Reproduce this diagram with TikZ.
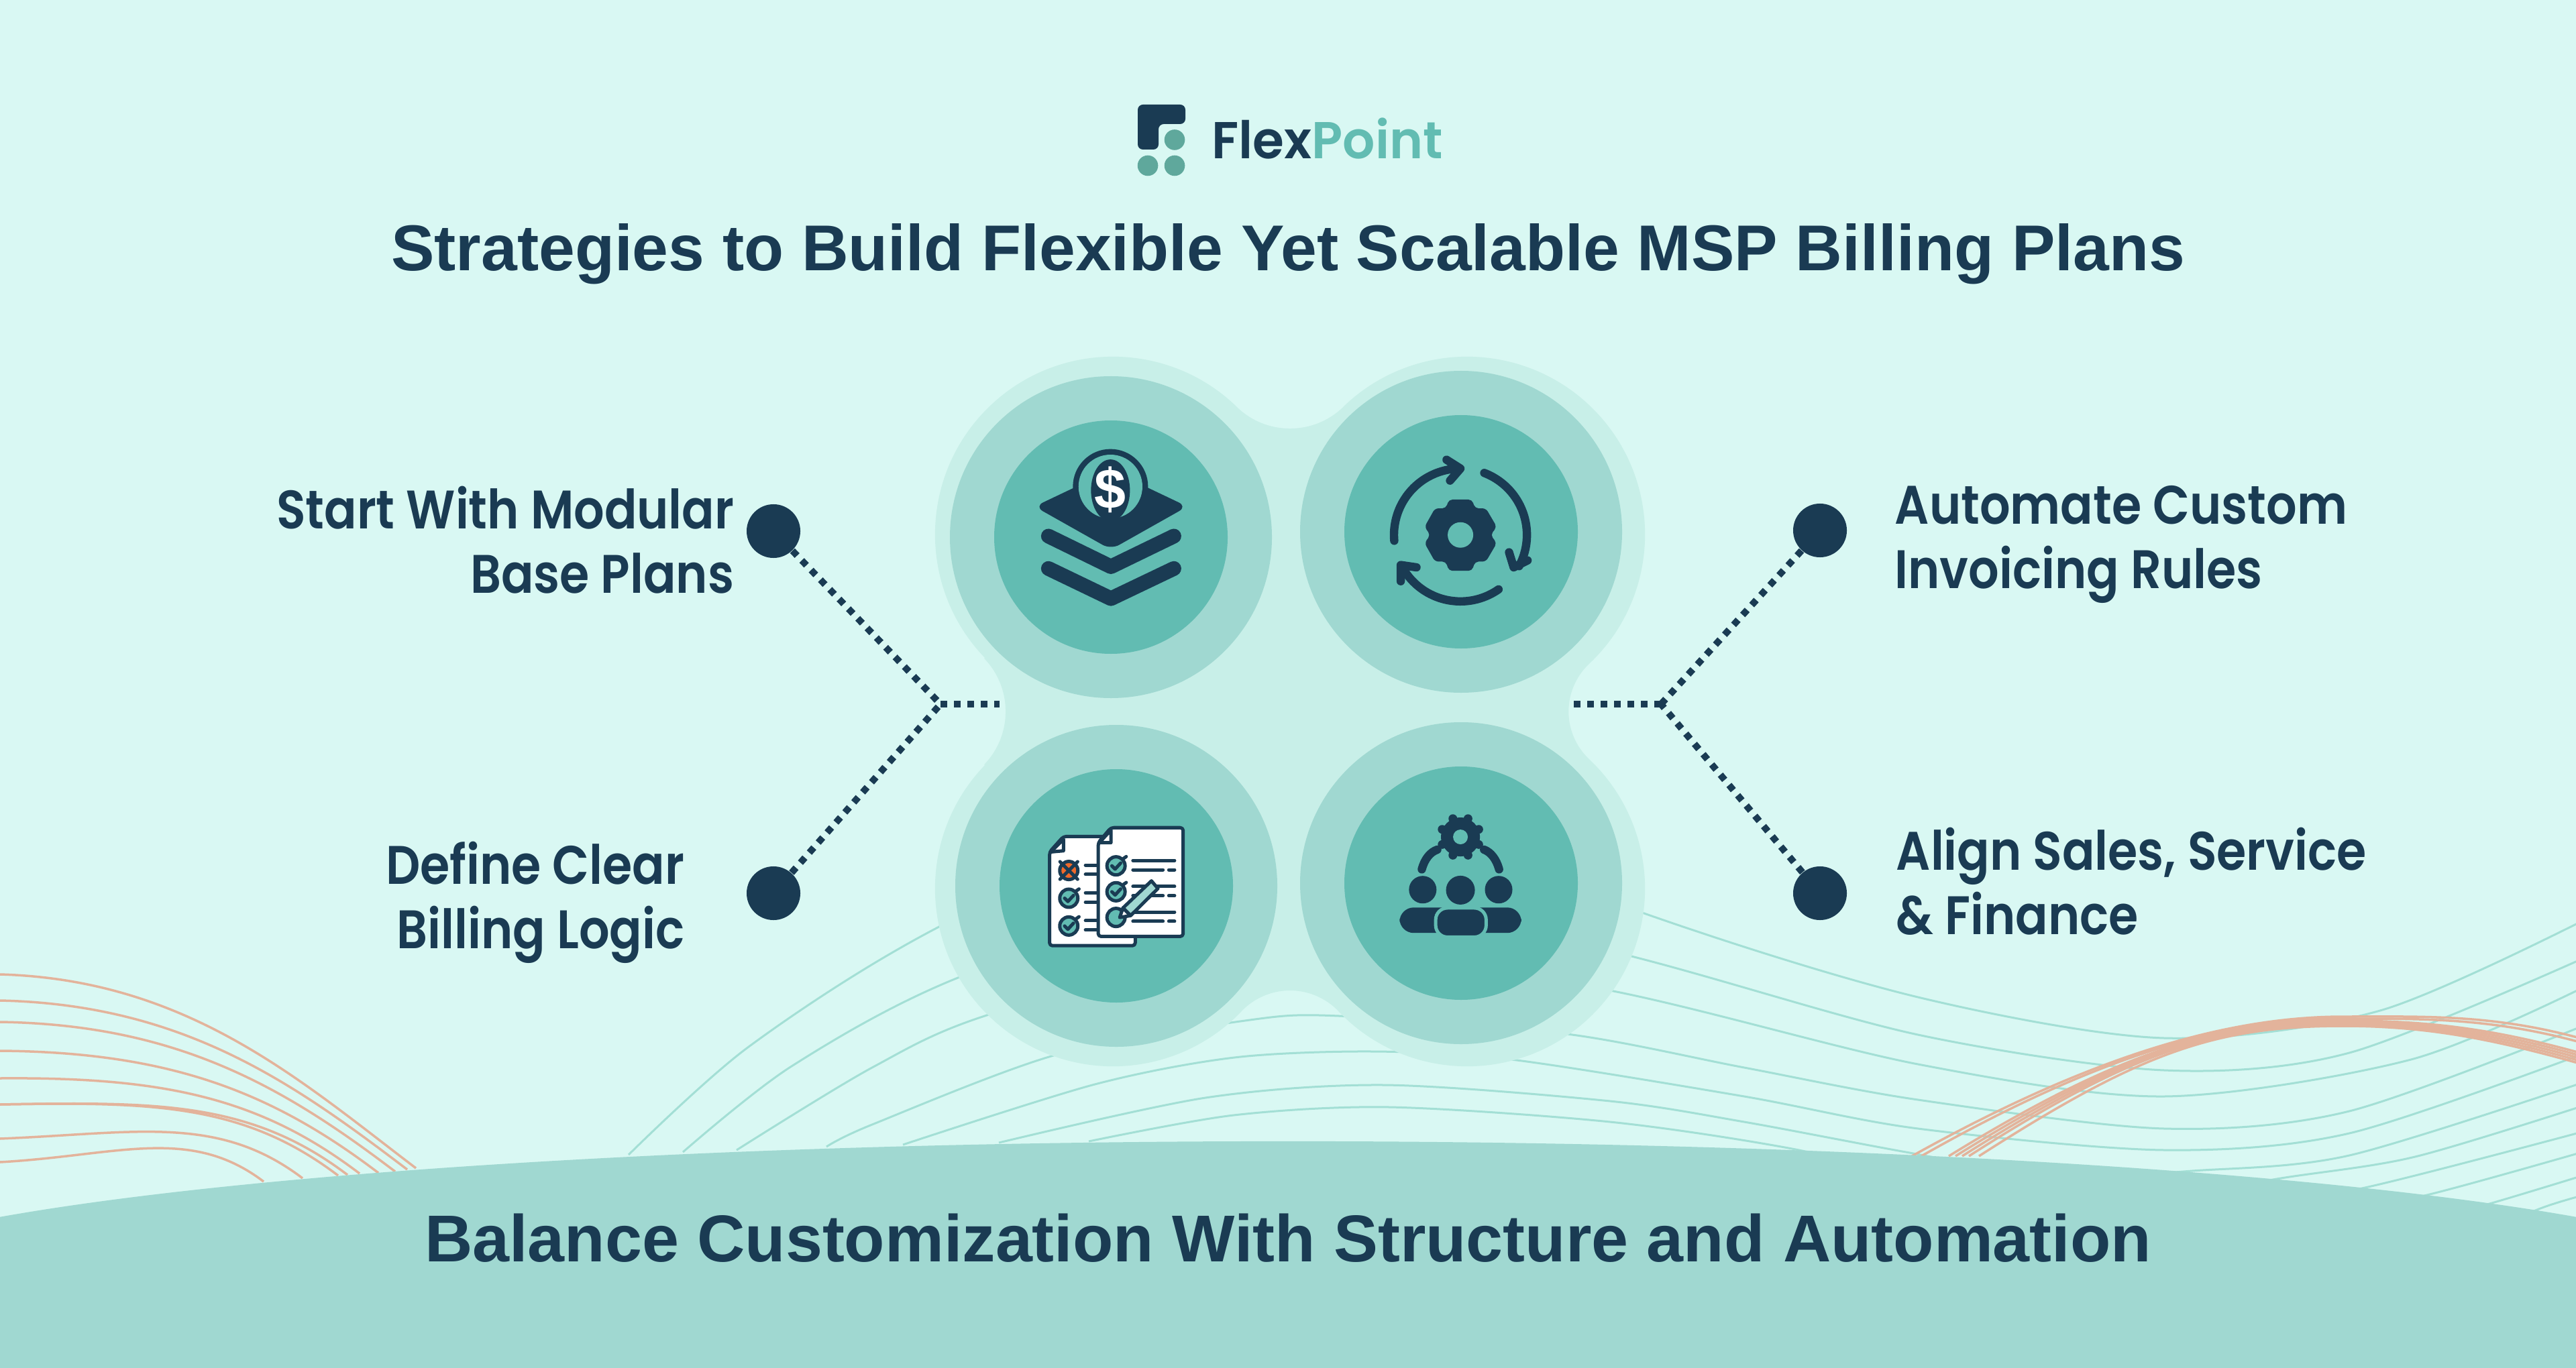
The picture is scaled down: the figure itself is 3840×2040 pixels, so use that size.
\documentclass[tikz,border=0pt]{standalone}
\usepackage{fontspec}
\setmainfont{Liberation Sans}
\newfontfamily\labelfont[FakeStretch=0.885]{Poppins SemiBold}
\newfontfamily\logofont[FakeStretch=0.98]{Poppins SemiBold}
\usetikzlibrary{calc}
\definecolor{pagebg}{HTML}{D9F8F3}
\definecolor{blobfill}{HTML}{C8EFE8}
\definecolor{ringfill}{HTML}{A0D8D1}
\definecolor{discfill}{HTML}{62BCB2}
\definecolor{ink}{HTML}{1A3B53}
\definecolor{logodot}{HTML}{5FA89C}
\definecolor{wave}{HTML}{A3DFD5}
\definecolor{peach}{HTML}{E3B39B}
\definecolor{xfill}{HTML}{F0692A}
\def\lobe(#1)(#2:#3:#4){-- ($(#1)+(#2:#4)$) arc (#2:#3:#4)}
\def\ringpiece(#1)(#2:#3:#4){($(#1)+(#2:#4)$) arc (#2:#3:#4)}
\def\tickdisc(#1,#2){
	\draw[pageline, fill=discfill] (#1,#2) circle (0.135cm);
	\draw[pageline] (#1-18,#2) -- (#1-4,#2+14) -- (#1+20,#2-12);
	\draw[pageline] (#1+30,#2-30) -- (#1+44,#2-40);
}
\def\pagelines(#1,#2,#3){
	\draw[pageline] (#1,#2) -- (#1+#3,#2);
	\draw[pageline] (#1,#2+40) -- (#1+#3,#2+40);
}
\tikzset{
	waveline/.style={wave, line width=0.03cm},
	peachline/.style={peach, line width=0.035cm},
	enddot/.style={circle, fill=ink, minimum size=0.8cm, inner sep=0pt},
	linkline/.style={ink, line width=1mm, dash pattern=on 1mm off 1mm},
	headtext/.style={ink, font=\fontsize{#1}{33}\selectfont\bfseries, anchor=base, inner sep=0pt},
	sidelabel/.style={ink, font=\labelfont\fontsize{23}{27.2}\selectfont, inner sep=0pt},
	iconstroke/.style={ink, line width=0.124cm, line cap=round, line join=round},
	pageline/.style={ink, line width=0.05cm, line cap=round, line join=round},
	zoomed/.style={x=0.003444cm, y=-0.003444cm}
}
\begin{document}
\begin{tikzpicture}[x=0.01cm, y=-0.01cm]
	%%%%% BACKGROUND %%%%%
	\clip (0, 0) rectangle (3840, 2040);
	\fill[pagebg] (0, 0) rectangle (3840, 2040);

	\draw[waveline] plot[smooth] coordinates {(937,1722) (1116,1561) (1396,1384) (1900,1150) (2448,1361) (2859,1487) (3226,1548) (3548,1507) (3860,1368)};
	\draw[waveline] plot[smooth] coordinates {(1018,1718) (1180,1590) (1428,1458) (1900,1300) (2432,1426) (2859,1543) (3226,1596) (3502,1570) (3860,1425)};
	\draw[waveline] plot[smooth] coordinates {(1098,1715) (1300,1592) (1474,1513) (1900,1400) (2400,1477) (2859,1587) (3226,1635) (3594,1580) (3860,1468)};
	\draw[waveline] plot[smooth] coordinates {(1232,1710) (1300,1677) (1574,1573) (1856,1522) (1996,1515) (2336,1542) (2600,1592) (2859,1640) (3226,1683) (3502,1657) (3860,1526)};
	\draw[waveline] plot[smooth] coordinates {(1346,1707) (1632,1617) (1840,1577) (2046,1568) (2253,1580) (2600,1635) (2859,1683) (3226,1715) (3502,1690) (3860,1568)};
	\draw[waveline] plot[smooth] coordinates {(1489,1704) (1797,1637) (2063,1618) (2400,1642) (2600,1673) (2841,1718) (3060,1755) (3268,1746) (3502,1723) (3860,1611)};
	\draw[waveline] plot[smooth] coordinates {(1623,1702) (1839,1663) (2071,1651) (2400,1673) (2666,1712) (2900,1765) (3150,1797) (3400,1757) (3600,1725) (3860,1646)};
	\draw[waveline] plot[smooth] coordinates {(3300,1810) (3530,1770) (3860,1685)};
	\draw[waveline] plot[smooth] coordinates {(3400,1830) (3626,1780) (3860,1715)};
	\draw[waveline] plot[smooth] coordinates {(3550,1840) (3718,1793) (3860,1750)};
	\draw[waveline] plot[smooth] coordinates {(3650,1860) (3787,1802) (3860,1780)};

	\foreach \ya/\xb/\yb/\dy in {1453/620/1742/8, 1492/607/1744/6, 1524/589/1747/4, 1567/564/1749/2, 1608/536/1750/-2, 1647/518/1752/-4, 1647/504/1753/-4, 1698/451/1757/-8, 1733/393/1762/-10}
		\draw[peachline] (0,\ya) .. controls (\xb*0.45,\ya+\dy) and (\xb*0.72,\yb-0.76*\xb*0.28) .. (\xb,\yb);
	\foreach \xs/\py/\yc/\ye in {2850/1590/1516/1552, 2864/1588/1519/1558, 2905/1576/1522/1574, 2915/1574/1524/1578, 2925/1572/1526/1582, 2935/1570/1528/1586, 2950/1570/1530/1590}
		\draw[peachline] (\xs,1724) .. controls (\xs+240,\py) and (3300,\yc) .. (3493,\yc) .. controls (3620,\yc) and (3720,\ye-40) .. (3860,\ye);

	%%%%% CENTRE %%%%%
	\fill[blobfill] (1843,607)
		\lobe(1659,797)(45.9:223.9:2.65cm)
		\lobe(1385,1061)(43.9:-43.9:1.14cm)
		\lobe(1659,1325)(136.1:316.3:2.65cm)
		\lobe(1923,1577)(136.3:43.7:0.999cm)
		\lobe(2187,1325)(223.7:406.7:2.65cm)
		\lobe(2436,1061)(226.7:133.3:0.977cm)
		\lobe(2187,797)(-46.7:134.1:2.65cm)
		\lobe(1923,525)(-45.9:-134.1:1.14cm)
		-- cycle;
	\foreach \cx/\cy in {1656/801, 2178/793, 1664/1321, 2178/1317} {
		\fill[ringfill] (\cx,\cy) circle (240);
		\fill[discfill] (\cx,\cy) circle (174);
	}

	%%%%% HILL %%%%%
	\fill[ringfill] (1920,1923) ellipse [x radius=22cm, y radius=2.21cm];
	\fill[ringfill] (0,1923) rectangle (3840,2040);

	%%%%% LOGO %%%%%
	\fill[ink, rounded corners=2.2pt] (1696,156) -- (1767,156) -- (1767,185) -- (1727,185) -- (1727,223) -- (1696,223) -- cycle;
	\fill[logodot] (1751,208.5) circle (15.3);
	\fill[logodot] (1711,247) circle (15.3);
	\fill[logodot] (1751,247) circle (15.3);
	\node[anchor=base west, inner sep=0pt, font=\logofont\fontsize{22}{26}\selectfont] (logoname) at (1806,237) {\textcolor{ink}{Flex}\textcolor{discfill}{Point}};

	%%%%% TEXTS %%%%%
	\node[headtext=27.47] (title) at (1920,404) {Strategies to Build Flexible Yet Scalable MSP Billing Plans};
	\node[headtext=28.1] (footer) at (1920,1881) {Balance Customization With Structure and Automation};

	\node[sidelabel, anchor=east, align=right] (lblModular) at (1095,805) {Start With Modular\\Base Plans};
	\node[sidelabel, anchor=east, align=right] (lblLogic) at (1021,1346) {Define Clear\\Billing Logic};
	\node[sidelabel, anchor=west, align=left] (lblInvoice) at (2824,812) {Automate Custom\\Invoicing Rules};
	\node[sidelabel, anchor=west, align=left] (lblAlign) at (2826,1314) {Align Sales, Service\\\& Finance};

	%%%%% CONNECTORS %%%%%
	\node[enddot] (dotModular) at (1153,792) {};
	\node[enddot] (dotLogic) at (1153,1332) {};
	\node[enddot] (dotInvoice) at (2713,791) {};
	\node[enddot] (dotAlign) at (2713,1332) {};
	\coordinate (joinL) at (1402,1050);
	\coordinate (stubL) at (1490,1050);
	\coordinate (joinR) at (2476,1050);
	\coordinate (stubR) at (2338,1050);
	\draw[linkline] (dotModular) -- (joinL);
	\draw[linkline] (dotLogic) -- (joinL);
	\draw[linkline] (joinL) -- (stubL);
	\draw[linkline] (dotInvoice) -- (joinR);
	\draw[linkline] (dotAlign) -- (joinR);
	\draw[linkline] (joinR) -- (stubR);

	%%%%% ICON LAYERS %%%%%
	\begin{scope}[shift={(1380,520)}, zoomed]
		\fill[ink, rounded corners=4pt] (470,682) -- (800,525) -- (1130,682) -- (800,868) -- cycle;
		\draw[ink, line width=0.22cm, line cap=round, line join=round] (530,810) -- (800,942) -- (1072,810);
		\draw[ink, line width=0.22cm, line cap=round, line join=round] (530,950) -- (800,1080) -- (1072,950);
		\fill[ink] (798,596) circle (0.56cm);
		\fill[discfill] (798,596) circle (0.476cm);
		\fill[ink] (798,612) ellipse [x radius=0.29cm, y radius=0.46cm];
		\node[white, font=\fontsize{24}{24}\selectfont\bfseries, inner sep=0pt] (coinsign) at (798,610) {\$};
	\end{scope}

	%%%%% ICON CYCLE %%%%%
	\begin{scope}[shift={(1920,520)}, zoomed]
		\draw[iconstroke] \ringpiece(745,805)(185:92:0.99cm);
		\draw[iconstroke] (685,480) -- (745,518) -- (700,570);
		\draw[iconstroke] \ringpiece(745,805)(69:-28:0.99cm);
		\draw[iconstroke] (955,880) -- (975,945) -- (1035,915);
		\draw[iconstroke] \ringpiece(745,805)(-55:-152:0.99cm);
		\draw[iconstroke] (555,945) -- (487,935) -- (487,1005);
		\fill[ink, rounded corners=1.5pt] (695,652) -- (795,652) -- (808,690) -- (855,690) -- (902,770) -- (875,805) -- (902,840) -- (855,920) -- (808,920) -- (795,960) -- (695,960) -- (682,920) -- (635,920) -- (590,840) -- (615,805) -- (590,770) -- (635,690) -- (682,690) -- cycle;
		\fill[discfill] (745,805) circle (0.19cm);
	\end{scope}

	%%%%% ICON PAGES %%%%%
	\begin{scope}[shift={(1380,1060)}, zoomed]
		\draw[pageline, fill=white, rounded corners=1.2pt] (535,610) -- (595,543) -- (905,543) -- (905,1015) -- (535,1015) -- cycle;
		\draw[pageline, fill=white] (540,610) -- (595,605) -- (595,555) -- cycle;
		\pagelines(690,667,70)
		\pagelines(690,787,70)
		\pagelines(690,907,70)
		\draw[pageline, fill=xfill] (618,690) circle (0.135cm);
		\draw[pageline] (580,652) -- (656,728);
		\draw[pageline] (656,652) -- (580,728);
		\tickdisc(618,810)
		\tickdisc(618,930)
		\draw[pageline, fill=white, rounded corners=1.2pt] (745,570) -- (800,505) -- (1112,505) -- (1112,975) -- (745,975) -- cycle;
		\draw[pageline, fill=white] (750,570) -- (800,570) -- (800,515) -- cycle;
		\foreach \ly in {647,759,870} {
			\draw[pageline] (895,\ly) -- (1075,\ly);
			\draw[pageline] (895,\ly+40) -- (1025,\ly+40);
			\draw[pageline] (1050,\ly+40) -- (1075,\ly+40);
		}
		\tickdisc(822,670)
		\tickdisc(822,782)
		\draw[pageline, fill=discfill] (822,893) circle (0.135cm);
		\draw[pageline, fill=ringfill] (975,735) -- (1003,768) -- (885,885) -- (852,852) -- cycle;
		\draw[pageline, fill=white] (852,852) -- (885,885) -- (838,893) -- cycle;
	\end{scope}

	%%%%% ICON TEAM %%%%%
	\begin{scope}[shift={(1920,1060)}, zoomed]
		\fill[ink] (745,545) circle (0.29cm);
		\foreach \a in {22.5,67.5,...,337.5}
			\fill[ink] ($(745,545)+(\a:0.295cm)$) circle (0.065cm);
		\fill[discfill] (745,545) circle (0.11cm);
		\draw[iconstroke] (578,685) .. controls (590,640) and (615,610) .. (645,600);
		\draw[iconstroke] (912,685) .. controls (900,640) and (875,610) .. (847,600);
		\fill[ink] (582,773) circle (0.205cm);
		\fill[ink] (745,775) circle (0.215cm);
		\fill[ink] (910,773) circle (0.205cm);
		\fill[ink, rounded corners=6pt] (482,850) rectangle (1008,960);
		\draw[discfill, line width=0.05cm, fill=ink, rounded corners=5pt] (638,852) rectangle (856,978);
	\end{scope}
\end{tikzpicture}
\end{document}
